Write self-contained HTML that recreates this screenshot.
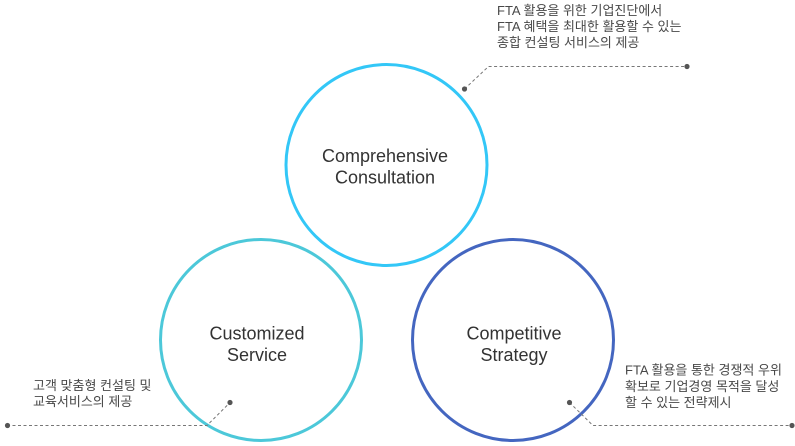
<!DOCTYPE html>
<html><head><meta charset="utf-8"><style>
html,body{margin:0;padding:0;background:#fff;}
svg{display:block;}
.k{font-family:"Liberation Sans","Noto Sans CJK KR","NanumGothic",sans-serif;font-size:13px;fill:#484848;}
.t{font-family:"Liberation Sans",sans-serif;font-size:18px;fill:#333;text-anchor:middle;}
</style></head><body>
<svg width="795" height="446" viewBox="0 0 795 446" xmlns="http://www.w3.org/2000/svg">
<circle cx="386.5" cy="165" r="100.5" fill="none" stroke="#33c7f7" stroke-width="3"/>
<circle cx="261" cy="340" r="100.5" fill="none" stroke="#4cc8d9" stroke-width="3"/>
<circle cx="513" cy="340" r="100.5" fill="none" stroke="#4466c0" stroke-width="3"/>

<g fill="none" stroke="#777" stroke-width="1" stroke-dasharray="3,2.5">
<path d="M464.5 89 L488.5 66.5 L687 66.5"/>
<path d="M7 425.5 L207 425.5 L230 402.5"/>
<path d="M569.5 402.5 L593 425.5 L792 425.5"/>
</g>
<g fill="#555">
<circle cx="464.5" cy="89" r="2.6"/>
<circle cx="687" cy="66.5" r="2.6"/>
<circle cx="7.5" cy="425.5" r="2.6"/>
<circle cx="230" cy="402.5" r="2.6"/>
<circle cx="569.5" cy="402.5" r="2.6"/>
<circle cx="792" cy="425.5" r="2.6"/>
</g>

<text class="t" x="385" y="162">Comprehensive</text>
<text class="t" x="385" y="183.5">Consultation</text>
<text class="t" x="257" y="339.5">Customized</text>
<text class="t" x="257" y="361">Service</text>
<text class="t" x="514" y="339.5">Competitive</text>
<text class="t" x="514" y="361">Strategy</text>

<text class="k" x="497" y="15">FTA 활용을 위한 기업진단에서</text>
<text class="k" x="497" y="31">FTA 혜택을 최대한 활용할 수 있는</text>
<text class="k" x="497" y="47">종합 컨설팅 서비스의 제공</text>

<text class="k" x="33" y="390">고객 맞춤형 컨설팅 및</text>
<text class="k" x="33" y="406">교육서비스의 제공</text>

<text class="k" x="625" y="374.5">FTA 활용을 통한 경쟁적 우위</text>
<text class="k" x="625" y="391">확보로 기업경영 목적을 달성</text>
<text class="k" x="625" y="407">할 수 있는 전략제시</text>
</svg>
</body></html>
